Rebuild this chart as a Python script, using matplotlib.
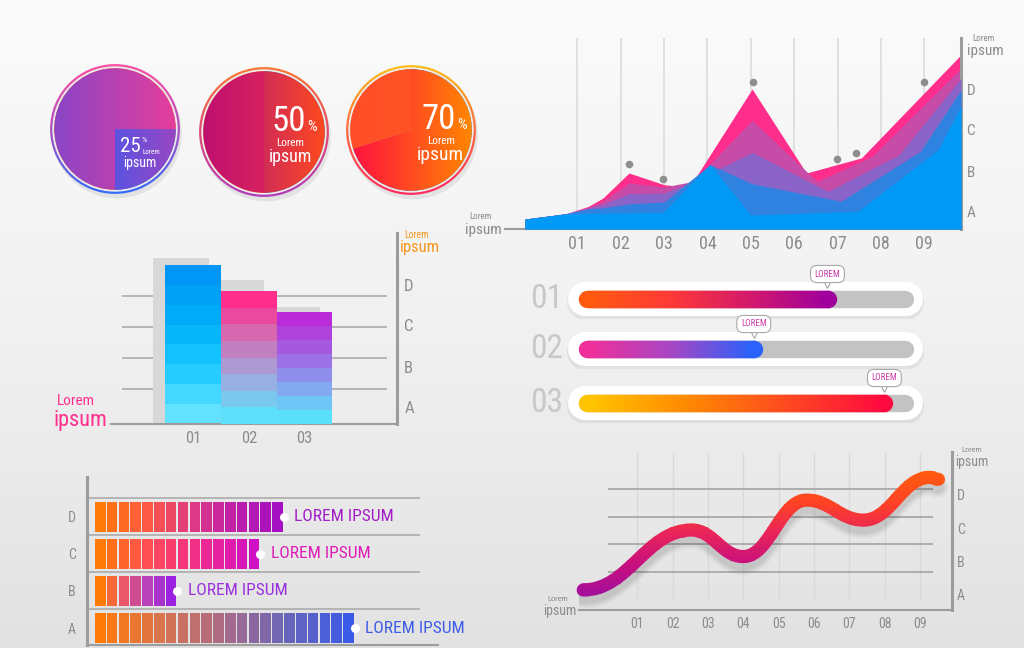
import numpy as np
import matplotlib
matplotlib.use('Agg')
import matplotlib.pyplot as plt
from matplotlib import font_manager, transforms
from matplotlib.colors import LinearSegmentedColormap
from matplotlib.font_manager import FontProperties
from matplotlib.path import Path
from matplotlib.patches import PathPatch, Rectangle, Circle, Wedge
from matplotlib.collections import LineCollection

W, H = 1024, 648
GREY = '#8c8c8c'
AXIS = '#9c9c9c'

# ---------------- data ----------------
pie_pct = [25, 50, 70]

area_ticks = ['01', '02', '03', '04', '05', '06', '07', '08', '09']
area_letters = ['A', 'B', 'C', 'D']
area_letter_pos = [9.2, 30.2, 52.0, 72.9]
pink_x = [-0.21, 0.74, 1.25, 1.59, 2.19, 3.0, 3.37, 3.67, 5.03, 6.28, 7.55, 9.85]
pink_y = [5.2, 8.0, 11.8, 16.2, 29.3, 23.2, 22.3, 24.9, 73.3, 29.3, 37.2, 91.3]
magenta_x = [-0.21, 0.74, 1.25, 1.59, 2.19, 3.0, 3.67, 5.03, 6.53, 7.8, 9.85]
magenta_y = [5.2, 8.0, 11.3, 14.5, 24.1, 22.0, 24.9, 56.9, 24.9, 38.0, 84.3]
purple_x = [-0.21, 0.74, 1.25, 1.59, 2.19, 3.0, 3.67, 5.03, 6.78, 8.42, 9.85]
purple_y = [5.2, 8.0, 11.0, 12.7, 18.5, 18.8, 24.9, 40.1, 19.7, 38.9, 79.0]
navy_x = [-0.21, 0.74, 1.25, 1.59, 2.19, 3.0, 4.06, 5.03, 7.08, 8.91, 9.85]
navy_y = [5.2, 8.0, 10.5, 11.0, 13.2, 14.1, 33.7, 23.7, 14.5, 40.6, 72.9]
blue_x = [-0.21, 0.74, 2.98, 4.06, 5.0, 7.47, 9.32, 9.85]
blue_y = [5.2, 8.0, 8.7, 33.7, 7.3, 9.2, 41.5, 64.2]
dot_x = [2.19, 2.98, 5.06, 6.99, 7.43, 8.99]
dot_y = [34.1, 26.3, 77.1, 36.6, 40.0, 77.1]

col_labels = ['01', '02', '03']
col_values = [83.4, 69.7, 58.6]
col_shadow = [87.2, 75.5, 61.5]
col_letters = ['A', 'B', 'C', 'D']
col_letter_pos = [9.1, 30.0, 51.9, 72.9]
col_grid = [18.2, 34.5, 50.7, 67.1]

prog_labels = ['01', '02', '03']
prog_values = [77, 55, 94]

seg_letters = ['A', 'B', 'C', 'D']
seg_counts = [22, 7, 14, 16]

wave_ticks = area_ticks
wave_letters = ['A', 'B', 'C', 'D']
wave_letter_pos = [0.55, 1.76, 2.98, 4.2]
wave_grid = [1.40, 2.41, 3.41, 4.41]
wave_x = [-0.53, 2.54, 4.0, 5.79, 7.4, 9.28, 9.52]
wave_y = [0.73, 2.92, 1.95, 4.01, 3.28, 4.84, 4.77]


# ---------------- fonts ----------------
def narrow_font():
    prefs = ['robotocondensed', 'liberationsansnarrow', 'opensanscondensed',
             'notosanscondensed', 'dejavusanscondensed', 'condensed', 'narrow']
    cands = []
    for f in font_manager.fontManager.ttflist:
        if f.style != 'normal' or f.weight not in (400, 'normal', 'regular', 'book'):
            continue
        tag = (f.name + f.fname.split('/')[-1]).lower().replace(' ', '')
        cands.append((tag, f.fname))
    for p in prefs:
        for tag, fn in cands:
            if p in tag:
                return fn
    return None


NARROW = narrow_font()


def fp(size):
    if NARROW:
        return FontProperties(fname=NARROW, size=size)
    return FontProperties(family='DejaVu Sans', stretch='condensed', size=size)


# ---------------- helpers ----------------
fig = plt.figure(figsize=(W / 100, H / 100), dpi=100)


def box(x0, y0, x1, y1, **kw):
    return fig.add_axes([x0 / W, 1 - y1 / H, (x1 - x0) / W, (y1 - y0) / H], **kw)


def ftext(x, y, s, size, color=GREY, **kw):
    fig.text(x / W, 1 - y / H, s, fontproperties=fp(size), color=color,
             ha='center', va='baseline', **kw)


def cmap(*cols):
    return LinearSegmentedColormap.from_list('c', cols)


def gradient(ax, clip, cols, extent, vertical=False, z=2):
    g = np.linspace(0, 1, 256)
    img = g[:, None] if vertical else g[None, :]
    im = ax.imshow(img, cmap=cmap(*cols), extent=extent, origin='lower',
                   aspect='auto', interpolation='bilinear', zorder=z)
    im.set_clip_path(clip)
    return im


def style_spines(ax, show, lw):
    for s in ['top', 'bottom', 'left', 'right']:
        if s in show:
            ax.spines[s].set_color(AXIS)
            ax.spines[s].set_linewidth(lw[s])
        else:
            ax.spines[s].set_visible(False)
    ax.patch.set_alpha(0)


# background
bg = box(0, 0, W, H, zorder=-5)
bg.imshow(np.linspace(0, 1, 256)[:, None], cmap=cmap('#fbfbfb', '#f1f1f1', '#e2e2e2'),
          aspect='auto', extent=[0, 1, 0, 1], origin='upper')
bg.set_axis_off()

# ---------------- pies ----------------
pie_centres = [(115, 129), (264, 132), (411, 130)]
pie_start = [0, 90, 90]
pie_fill = [(['#1f60ff', '#9a46c2'], ['#8845c8', '#e83e9a']),
            (['#a8108e', '#ff4a1c'], ['#bd0f70', '#f03350']),
            (['#ff0c42', '#ff8a00'], ['#ff4d2a', '#ff5a1e'])]
pie_ring = [['#2f6cff', '#b050c0', '#ff4fa0'],
            ['#b03cc0', '#e04a70', '#ff7a30'],
            ['#ff2860', '#ff6a40', '#ffc21a']]
# number position (left, top) and font sizes: number, %, Lorem, ipsum
pie_layout = [(0.08, -0.12, 15, 6, 5, 10),
              (0.12, 0.42, 25, 11, 8, 13),
              (0.17, 0.42, 25, 11, 8, 14)]

for i, pct in enumerate(pie_pct):
    cx, cy = pie_centres[i]
    ax = box(cx - 70, cy - 70, cx + 70, cy + 70)
    res = ax.pie([pct, 100 - pct], radius=0.955, startangle=pie_start[i],
                 counterclock=False, wedgeprops=dict(lw=0))
    wedges = res[0]
    ax.add_patch(Circle((0.03, -0.07), 1.02, color='black', alpha=0.07, lw=0, zorder=0))
    ax.add_patch(Circle((0, 0), 1.0, color='#ececec', lw=0, zorder=0.5))
    ring = Wedge((0, 0), 1.02, 0, 360, width=0.035, lw=0, fc='none')
    ax.add_patch(ring)
    gradient(ax, ring, pie_ring[i], [-1.05, 1.05, -1.05, 1.05], vertical=True, z=1)
    for w, cols in zip(wedges, pie_fill[i]):
        gradient(ax, w, cols, [-1, 1, -1, 1], z=2)

    x, y, s_num, s_pct, s_lor, s_ips = pie_layout[i]
    tk = dict(color='white', zorder=5, textcoords='offset points')
    num = ax.text(x, y, str(pct), fontproperties=fp(s_num), color='white',
                  ha='left', va='top', zorder=5)
    if i == 0:
        ax.annotate('%', xy=(1, 1), xycoords=num, xytext=(1, 0), ha='left', va='top',
                    fontproperties=fp(s_pct), **tk)
        ax.annotate('Lorem', xy=(1, 0), xycoords=num, xytext=(1, 0), ha='left',
                    va='bottom', fontproperties=fp(s_lor), **tk)
        ax.annotate('ipsum', xy=(0, 0), xycoords=num, xytext=(2, 0), ha='left',
                    va='top', fontproperties=fp(s_ips), **tk)
    else:
        ax.annotate('%', xy=(1, 0), xycoords=num, xytext=(1, 3), ha='left',
                    va='bottom', fontproperties=fp(s_pct), **tk)
        lor = ax.annotate('Lorem', xy=(0.55, 0), xycoords=num, xytext=(0, 0),
                          ha='center', va='top', fontproperties=fp(s_lor), **tk)
        ax.annotate('ipsum', xy=(0.5, 0), xycoords=lor, xytext=(0, 0), ha='center',
                    va='top', fontproperties=fp(s_ips), **tk)
    ax.set_xlim(-1.1, 1.1)
    ax.set_ylim(-1.1, 1.1)
    ax.set_aspect('equal')
    ax.axis('off')

# ---------------- overlapping area chart ----------------
ax = box(505, 38, 961, 229)
ax.vlines(range(1, 10), 0, 100, color='#dedede', lw=1.3, zorder=0)
layers = [(pink_x, pink_y, '#ff2d8c'), (magenta_x, magenta_y, '#c64ca8'),
          (purple_x, purple_y, '#8a64c8'), (navy_x, navy_y, '#2f82e0'),
          (blue_x, blue_y, '#0099f6')]
for k, (xs, ys, c) in enumerate(layers):
    ax.fill_between(xs, ys, color=c, lw=0, zorder=1 + k)
ax.scatter(dot_x, dot_y, s=30, color='#8e8e8e', lw=0, zorder=10)
ax.set_xlim(-0.669, 9.848)
ax.set_ylim(0, 100)
ax.set_xticks(range(1, 10), labels=area_ticks, fontproperties=fp(13))
ax.yaxis.tick_right()
ax.set_yticks(area_letter_pos, labels=area_letters, fontproperties=fp(11))
ax.tick_params(length=0, labelcolor=GREY)
ax.tick_params(axis='x', pad=4)
ax.tick_params(axis='y', pad=4)
style_spines(ax, ['bottom', 'right'], {'bottom': 1.5, 'right': 2.2})
ftext(480, 219, 'Lorem', 6.5)
ftext(483, 234, 'ipsum', 11)
ftext(983, 41, 'Lorem', 6.5)
ftext(985, 55, 'ipsum', 11)

# ---------------- column chart ----------------
ax = box(110.7, 233.3, 397.3, 424)
xs = np.arange(1, len(col_values) + 1)
ax.hlines(col_grid, -0.28, 4.478, color='#a6a6a6', lw=1.1, zorder=0)
ax.bar(xs - 0.22, col_shadow, width=1.0, color='#d8d8d8', lw=0, zorder=1)
col_cols = [['#62e2ff', '#1ac8ff', '#00b0f8', '#0096f6'],
            ['#5ee0fb', '#a0a8dd', '#d070b5', '#ff2d8b'],
            ['#5ae0fa', '#8aa0f0', '#a060e0', '#ba2cd8']]
for i, v in enumerate(col_values):
    cm = cmap(*col_cols[i])
    n = 8
    for k in range(n):
        ax.bar(xs[i], v / n, bottom=k * v / n, width=1.0, color=cm(k / (n - 1)),
               lw=0, zorder=2 + i)
ax.set_xlim(-0.478, 4.666)
ax.set_ylim(0, 100)
ax.set_xticks(xs, labels=col_labels, fontproperties=fp(12))
ax.yaxis.tick_right()
ax.set_yticks(col_letter_pos, labels=col_letters, fontproperties=fp(12))
ax.tick_params(length=0, labelcolor=GREY)
ax.tick_params(axis='x', pad=5)
ax.tick_params(axis='y', pad=5)
style_spines(ax, ['bottom', 'right'], {'bottom': 1.5, 'right': 2.2})
ftext(417, 238, 'Lorem', 7, color='#f7961f')
ftext(420, 252, 'ipsum', 12, color='#f7961f')
ftext(76, 405, 'Lorem', 11, color='#ff2f8e')
ftext(80, 426, 'ipsum', 16, color='#ff2f8e')

# ---------------- progress bars ----------------
row_cy = [299, 349, 403]
prog_cols = [['#ff5a10', '#ff3a35', '#d51a6a', '#a0009c'],
             ['#f0309a', '#a846c4', '#2a62fa'],
             ['#ffc400', '#ff8a00', '#ff4a20', '#ff0a40']]
for i, v in enumerate(prog_values):
    cy = row_cy[i]
    ax = box(520, cy - 34, 940, cy + 20)
    ax.plot([2.09, 97.9], [-2.5, -2.5], lw=26, color='black', alpha=0.06,
            solid_capstyle='round')
    ax.plot([2.09, 97.9], [0, 0], lw=24.5, color='white', solid_capstyle='round')
    ax.plot([2.58, 97.42], [0, 0], lw=12.5, color='#c3c3c3', solid_capstyle='round')
    cm = cmap(*prog_cols[i])
    edges = np.linspace(2.58, v - 2.58, 121)
    step = edges[1] - edges[0]
    segs = [[(a, 0), (a + 2 * step, 0)] for a in edges[:-1]]
    ax.add_collection(LineCollection(segs, colors=[cm(j / 119) for j in range(120)],
                                     linewidths=12.5, capstyle='butt', zorder=3))
    ax.plot(2.58, 0, 'o', ms=12.5, mew=0, color=cm(0.0), zorder=3)
    ax.plot(v - 2.58, 0, 'o', ms=12.5, mew=0, color=cm(1.0), zorder=3)
    ax.plot(v - 2.6, 15.5, marker='v', ms=6, mfc='white', mec='#a9a9a9', mew=0.8, zorder=4)
    ax.text(v - 2.6, 25, 'LOREM', fontproperties=fp(6.5), color='#c93aa8', ha='center',
            va='center', zorder=5,
            bbox=dict(boxstyle='round,pad=0.45,rounding_size=0.7', fc='white',
                      ec='#a9a9a9', lw=0.8))
    ax.text(-9.4, 0, prog_labels[i], fontproperties=fp(24), color='#c8c8c8',
            ha='center', va='center')
    ax.set_xlim(-17.4, 108.0)
    ax.set_ylim(-20, 34)
    ax.axis('off')

# ---------------- segmented horizontal bars ----------------
ax = box(86.7, 476.7, 438.3, 645)
ax.hlines(np.arange(len(seg_counts)) + 0.5, -0.64, 27.53, color='#ababab', lw=1.2, zorder=0)
seg_cols = [['#ff7a08', '#d87450', '#a86a88', '#6a66b8', '#3c5ae8'],
            ['#ff7a08', '#e85868', '#b840b8', '#9a22e0'],
            ['#ff7a08', '#ff4a58', '#f02a90', '#d010c4'],
            ['#ff7a08', '#ff5a40', '#e03c80', '#c020a8', '#a410c2']]
seg_text_cols = ['#3f5ce6', '#9a30de', '#e01cb8', '#a21cc8']
for r, n in enumerate(seg_counts):
    cm = cmap(*seg_cols[r])
    ax.barh([r] * n, 0.9, left=np.arange(n) + 0.05, height=0.8,
            color=[cm(k / max(n - 1, 1)) for k in range(n)], lw=0, zorder=2)
    ax.plot(n, r, 'o', ms=6.5, mew=0, color='white', zorder=4)
    ax.text(n + 0.9, r, 'LOREM IPSUM', fontproperties=fp(12.5), color=seg_text_cols[r],
            ha='left', va='center')
ax.set_xlim(-0.64, 29.08)
ax.set_ylim(-0.458, 4.078)
ax.set_xticks([])
ax.set_yticks(range(len(seg_letters)), labels=seg_letters, fontproperties=fp(10))
ax.tick_params(length=0, labelcolor=GREY, pad=8)
style_spines(ax, ['left', 'bottom'], {'left': 2.2, 'bottom': 1.5})

# ---------------- smooth wave line ----------------
ax = box(579.3, 451.7, 951.7, 610)
ax.vlines(range(1, 10), 0.36, 5.73, color='#d9d9d9', lw=1.0, zorder=0)
ax.hlines(wave_grid, 0.18, 9.37, color='#a3a3a3', lw=1.2, zorder=0)
verts = [(wave_x[0], wave_y[0])]
codes = [Path.MOVETO]
for x0, y0, x1, y1 in zip(wave_x[:-1], wave_y[:-1], wave_x[1:], wave_y[1:]):
    dx = x1 - x0
    verts += [(x0 + 0.42 * dx, y0), (x1 - 0.42 * dx, y1), (x1, y1)]
    codes += [Path.CURVE4] * 3
path = Path(verts, codes)
shadow_tr = transforms.offset_copy(ax.transData, fig=fig, x=0, y=-8, units='dots')
for lw, a in [(15, 0.035), (12, 0.045), (9, 0.06)]:
    ax.add_patch(PathPatch(path, fill=False, ec='black', lw=lw, alpha=a,
                           transform=shadow_tr, capstyle='round', zorder=2))
wave_cm = cmap('#a50f9a', '#c8107e', '#e8245a', '#ff4224', '#ff5a10')
edges = np.linspace(0, 5.777, 49)
for lo, hi in zip(edges[:-1], edges[1:]):
    col = wave_cm(np.clip(((lo + hi) / 2 - 0.6) / 4.4, 0, 1))
    pp = PathPatch(path, fill=False, ec=col, lw=9.5, capstyle='round',
                   joinstyle='round', zorder=3)
    ax.add_patch(pp)
    pp.set_clip_path(Rectangle((-1, lo - 0.005), 12, hi - lo + 0.01, transform=ax.transData))
ax.set_xlim(-0.641, 9.897)
ax.set_ylim(0, 5.777)
ax.set_xticks(range(1, 10), labels=wave_ticks, fontproperties=fp(10))
ax.yaxis.tick_right()
ax.set_yticks(wave_letter_pos, labels=wave_letters, fontproperties=fp(10))
ax.tick_params(length=0, labelcolor=GREY)
ax.tick_params(axis='x', pad=5)
ax.tick_params(axis='y', pad=4)
style_spines(ax, ['bottom', 'right'], {'bottom': 1.5, 'right': 2.2})
ftext(972, 452, 'Lorem', 6)
ftext(972, 466, 'ipsum', 10)
ftext(558, 601, 'Lorem', 6)
ftext(560, 614.5, 'ipsum', 10)

fig.savefig('out.png', dpi=100)
